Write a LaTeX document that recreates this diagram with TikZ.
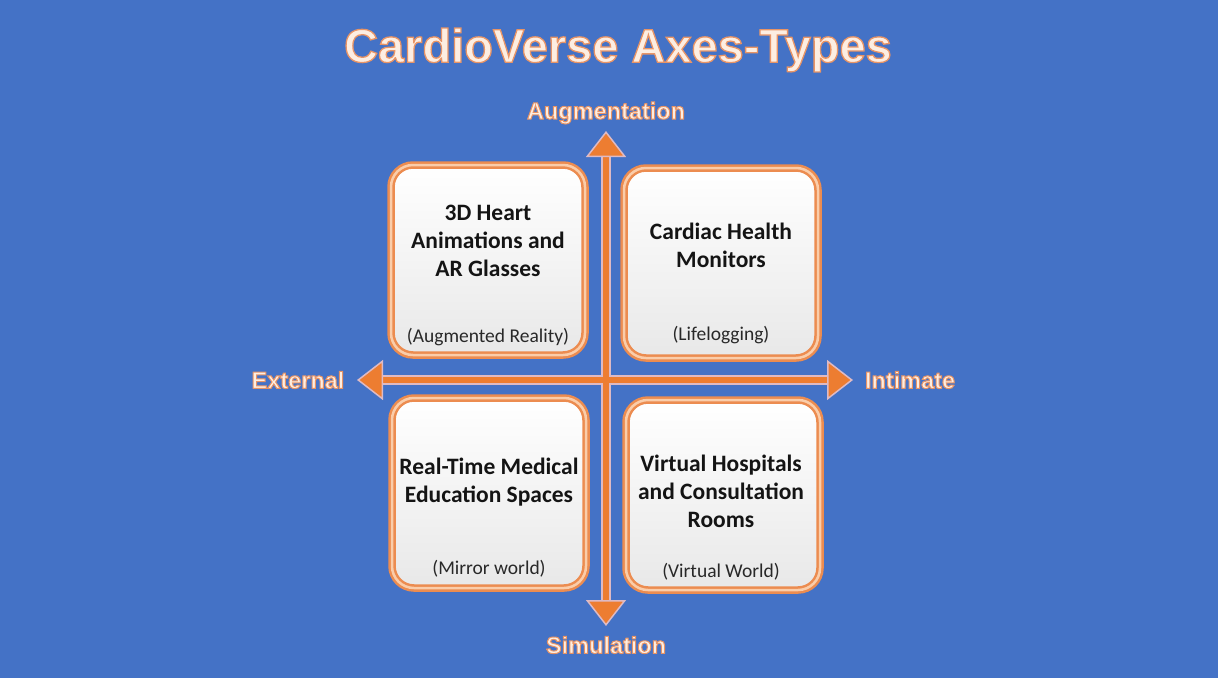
\documentclass[tikz,border=0pt]{standalone}
\usepackage{fontspec}
\setmainfont{Liberation Sans}
\newfontfamily\calib{Carlito}
\usetikzlibrary{arrows.meta}
\definecolor{bgblue}{RGB}{68,114,198}
\definecolor{axorange}{RGB}{237,125,49}
\definecolor{axedge}{RGB}{222,186,196}
\definecolor{boxorange}{RGB}{236,140,80}
\definecolor{boxpeach}{RGB}{250,205,170}
\definecolor{lblc}{RGB}{253,238,226}
\definecolor{boxtext}{RGB}{20,20,20}
\definecolor{subtext}{RGB}{40,40,40}
% outlined text: fill in light colour, thin orange stroke
\newcommand\glowtext[2][1.0]{{\color{lblc}%
 \special{pdf:literal direct 2 Tr #1 w 0.91 0.58 0.40 RG}%
 #2%
 \special{pdf:literal direct 0 Tr}}}
\tikzset{
 quad/.style={draw=boxorange, line width=2.5pt, double=boxpeach, double distance=2.5pt,
   rounded corners=22pt, top color=white, bottom color=black!9,
   minimum width=194pt, minimum height=190pt, inner sep=0pt},
 maintext/.style={align=center, text=boxtext, inner sep=0pt,
   font=\calib\bfseries\fontsize{23.5}{28}\selectfont},
 subtxt/.style={text=subtext, inner sep=0pt, font=\calib\fontsize{19.5}{22}\selectfont},
 axlbl/.style={inner sep=0pt, font=\bfseries\fontsize{23.5}{26}\selectfont},
 titlelbl/.style={inner sep=0pt, font=\bfseries\fontsize{47}{52}\selectfont},
 axback/.style={draw=axedge, line width=9.5pt, shorten <=22pt, shorten >=22pt},
 axfront/.style={draw=axorange, line width=6.5pt,
   {Triangle[width=40pt,length=26pt,line width=1.5pt,fill=axorange,color=axedge]}-{Triangle[width=40pt,length=26pt,line width=1.5pt,fill=axorange,color=axedge]}},
}
\begin{document}
\begin{tikzpicture}[x=1pt,y=-1pt]
\fill[bgblue] (0,0) rectangle (1218,678);
\useasboundingbox (0,0) rectangle (1218,678);

% title
\node[titlelbl] (title) at (618,50) {\glowtext[1.3]{CardioVerse Axes-Types}};

% quadrant boxes
\node[quad] (tl) at (488,260) {};
\node[quad] (tr) at (721,263) {};
\node[quad] (bl) at (489,493) {};
\node[quad] (br) at (723,495) {};

% axes
\coordinate (top) at (606,131);
\coordinate (bot) at (606,626);
\coordinate (lft) at (357,380);
\coordinate (rgt) at (853,380);
\draw[axback] (top) -- (bot);
\draw[axback] (lft) -- (rgt);
\draw[axfront] (top) -- (bot);
\draw[axfront] (lft) -- (rgt);

% axis labels
\node[axlbl] (aug) at (606,113) {\glowtext{Augmentation}};
\node[axlbl] (sim) at (606,645) {\glowtext{Simulation}};
\node[axlbl] (ext) at (298,380) {\glowtext{External}};
\node[axlbl] (int) at (910,380) {\glowtext{Intimate}};

% box texts
\node[maintext] (tlm) at (488,241) {3D Heart\\Animations and\\AR Glasses};
\node[subtxt] (tls) at (488,337) {(Augmented Reality)};
\node[maintext] (trm) at (721,245) {Cardiac Health\\Monitors};
\node[subtxt] (trs) at (721,335) {(Lifelogging)};
\node[maintext] (blm) at (489,482) {Real-Time Medical\\Education Spaces};
\node[subtxt] (bls) at (489,569) {(Mirror world)};
\node[maintext] (brm) at (721,491) {Virtual Hospitals\\and Consultation\\Rooms};
\node[subtxt] (brs) at (721,572) {(Virtual World)};
\end{tikzpicture}
\end{document}
